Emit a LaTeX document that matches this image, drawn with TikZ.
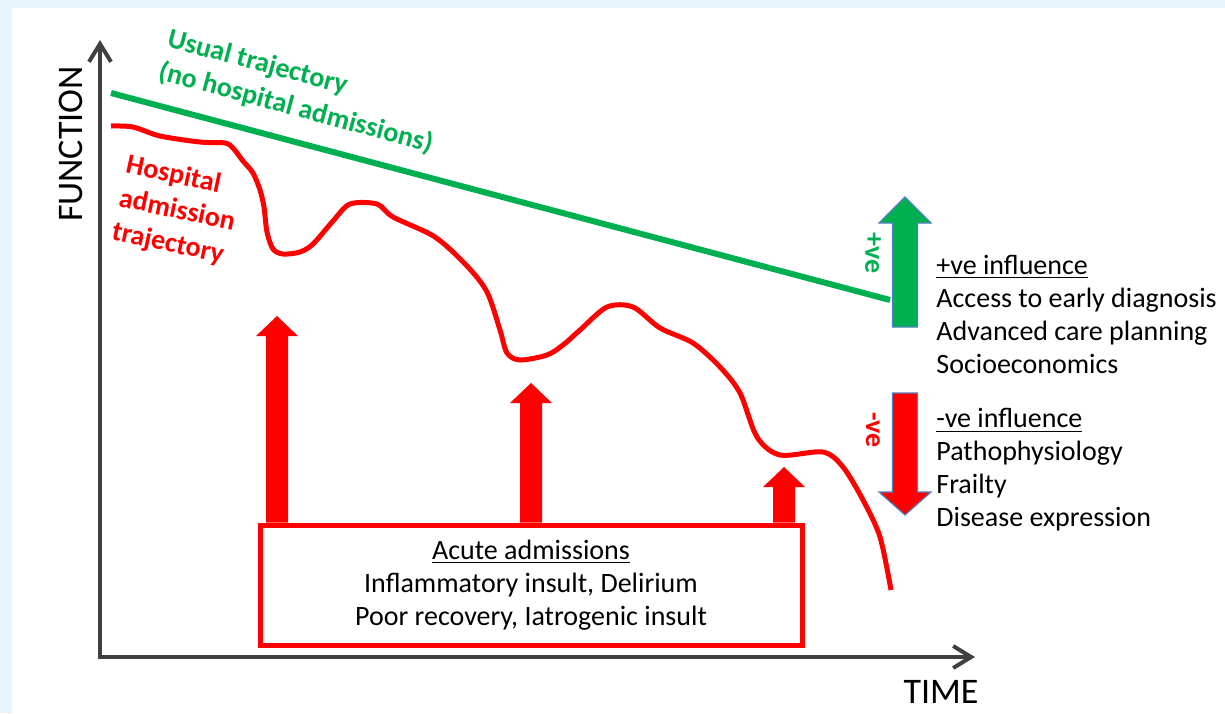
\documentclass[tikz,border=0pt]{standalone}
\usepackage{fontspec}
\setmainfont{Carlito}
\usetikzlibrary{calc}
\usetikzlibrary{positioning}
\usetikzlibrary{arrows.meta}

\definecolor{panelblue}{RGB}{232,244,252}
\definecolor{usualgreen}{RGB}{0,176,80}
\definecolor{hospred}{RGB}{255,0,0}
\definecolor{axisgrey}{RGB}{64,64,64}
\definecolor{edgeblue}{RGB}{79,129,189}

\begin{document}
\begin{tikzpicture}[x=0.5pt,y=-0.5pt,
    bodytext/.style={font=\fontsize{14}{16.5}\selectfont, inner sep=0pt},
    axislabel/.style={font=\fontsize{18}{20}\selectfont, inner sep=0pt},
    trajlabel/.style={font=\bfseries\fontsize{14}{17}\selectfont, inner sep=0pt, align=left},
    signlabel/.style={font=\bfseries\fontsize{14}{16}\selectfont, inner sep=0pt},
    influence/.style={draw=edgeblue, line width=0.6pt}]

    \fill[panelblue] (0,0) rectangle (1225,713);
    \fill[white] (12,8) rectangle (1225,713);

    % axes
    \coordinate (origin) at (100,657);
    \coordinate (ytop) at (100,40);
    \coordinate (xend) at (975,657);
    \draw[axisgrey, line width=2pt,
      {Straight Barb[length=9pt,width=11pt]}-{Straight Barb[length=9pt,width=11pt]}]
      (ytop) -- (origin) -- (xend);
    \node[axislabel, rotate=90] (function) at (71,144) {FUNCTION};
    \node[axislabel] (time) at (941,692) {TIME};

    % usual trajectory
    \coordinate (usualstart) at (111,93);
    \coordinate (usualend) at (890,300);
    \draw[usualgreen, line width=3pt] (usualstart) -- (usualend);
    \node[trajlabel, text=usualgreen, rotate=-15] (usual) at (300,92)
      {Usual trajectory\\(no hospital admissions)};

    % hospital admission trajectory
    \draw[hospred, line width=2.5pt, line join=round] plot[smooth, tension=0.5] coordinates {
      (111,126) (133,127) (160,136) (200,142) (225,143) (233,148) (243,161)
      (253,173) (260,190) (264,207) (267,232) (273,249) (283,254) (300,252)
      (313,244) (333,221) (350,204) (377,204) (393,217) (435,237) (467,266)
      (487,292) (500,330) (507,353) (520,360) (547,355) (563,345) (580,330)
      (607,307) (633,307) (660,328) (693,343) (720,367) (740,393) (757,437)
      (780,455) (823,452) (843,467) (863,500) (880,537) (891,590)};
    \node[trajlabel, text=hospred, rotate=-12] (hosp) at (177,211)
      {Hospital\\admission\\trajectory};

    % acute admissions
    \coordinate (dip1) at (277,316);
    \coordinate (dip2) at (531,383);
    \coordinate (dip3) at (784,467);
    \node[bodytext, draw=hospred, line width=2.5pt, fill=white, align=center,
      minimum width=271pt, minimum height=60pt] (adm) at (531,585)
      {\underline{Acute admissions}\\Inflammatory insult, Delirium\\Poor recovery, Iatrogenic insult};
    \foreach \dip in {dip1,dip2,dip3}
      \fill[hospred] ($(\dip |- adm.north)+(-11,0)$) -- ($(\dip)+(-11,20)$)
        -- ($(\dip)+(-21,20)$) -- (\dip) -- ($(\dip)+(21,20)$)
        -- ($(\dip)+(11,20)$) -- ($(\dip |- adm.north)+(11,0)$) -- cycle;

    % influences
    \filldraw[influence, fill=usualgreen] (905,197)
      -- ++(26,26) -- ++(-13.5,0) -- ++(0,104) -- ++(-25,0)
      -- ++(0,-104) -- ++(-13.5,0) -- cycle;
    \filldraw[influence, fill=hospred] (905,515)
      -- ++(26,-23) -- ++(-13.5,0) -- ++(0,-99) -- ++(-25,0)
      -- ++(0,99) -- ++(-13.5,0) -- cycle;
    \node[signlabel, text=usualgreen, rotate=-90] (plusve) at (873,253) {+ve};
    \node[signlabel, text=hospred, rotate=-90] (minusve) at (873,430) {-ve};

    \node[bodytext, align=left, anchor=west] (posinf) at (936,314)
      {\underline{+ve influence}\\Access to early diagnosis\\Advanced care planning\\Socioeconomics};
    \node[bodytext, align=left, anchor=west] (neginf) at (936,470)
      {\underline{-ve influence}\\Pathophysiology\\Frailty\\Disease expression};

\end{tikzpicture}
\end{document}
